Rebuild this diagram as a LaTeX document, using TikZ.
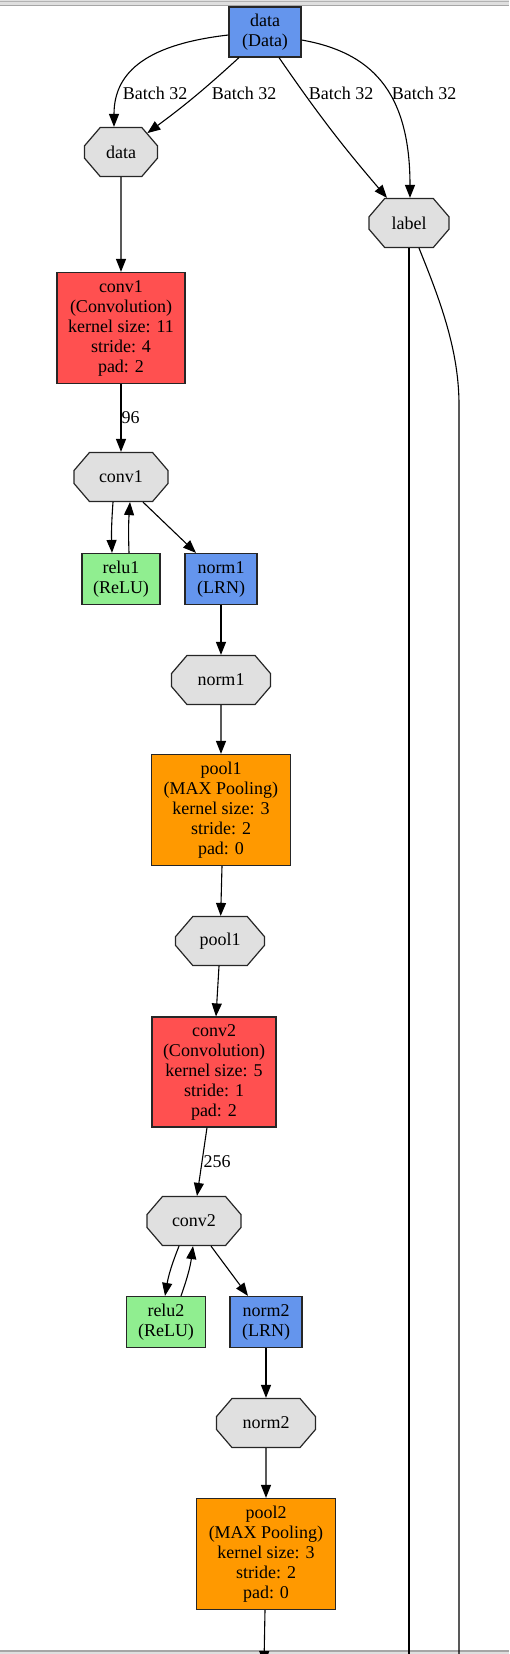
\documentclass[tikz,border=0pt]{standalone}
\usepackage{fontspec}
\setmainfont{Liberation Serif}
\usetikzlibrary{arrows.meta,shapes.misc}

\definecolor{datablue}{HTML}{6495ED}
\definecolor{convred}{HTML}{FF5050}
\definecolor{poolorange}{HTML}{FF9900}
\definecolor{relugreen}{HTML}{90EE90}
\definecolor{blobgray}{HTML}{E0E0E0}

\tikzset{
  layer/.style={rectangle, draw=black!85, line width=1.2pt, align=center,
    inner sep=0pt, font=\fontsize{18}{20}\selectfont},
  blob/.style={chamfered rectangle, chamfered rectangle angle=40.6,
    chamfered rectangle xsep=14pt, chamfered rectangle ysep=12pt,
    draw=black!85, line width=1.2pt, fill=blobgray, minimum height=49pt,
    inner sep=0pt, font=\fontsize{18}{20}\selectfont},
  edge/.style={-{Triangle[length=13pt,width=10pt]}, line width=1.1pt},
  edgelabel/.style={inner sep=0pt, font=\fontsize{18}{20}\selectfont},
}

\begin{document}
\begin{tikzpicture}[x=1pt,y=1pt]
  \useasboundingbox (0,0) rectangle (509,-1654);
  \clip (0,0) rectangle (509,-1654);

  % window frame
  \fill[gray!25] (0,0) rectangle (509,-6.5);
  \draw[gray!60, line width=1pt] (0,-1.5) -- (509,-1.5);
  \draw[gray!70, line width=1pt] (0,-6) -- (509,-6);
  \fill[gray!25] (0,-1651) rectangle (509,-1654);
  \draw[gray!70, line width=1.2pt] (0,-1651) -- (509,-1651);

  % layers and blobs
  \node[layer, fill=datablue, minimum width=72pt, minimum height=50pt] (datalayer) at (265,-32) {data\\(Data)};
  \node[blob, minimum width=73pt] (datablob) at (121,-152) {data};
  \node[blob, minimum width=80pt] (labelblob) at (409,-223) {label};
  \node[layer, fill=convred, minimum width=128pt, minimum height=111pt] (conv1) at (121,-328) {conv1\\(Convolution)\\kernel size: 11\\stride: 4\\pad: 2};
  \node[blob, minimum width=94pt] (conv1blob) at (121,-477) {conv1};
  \node[layer, fill=relugreen, minimum width=78pt, minimum height=51pt] (relu1) at (121,-579) {relu1\\(ReLU)};
  \node[layer, fill=datablue, minimum width=72pt, minimum height=51pt] (norm1) at (221,-579) {norm1\\(LRN)};
  \node[blob, minimum width=99pt] (norm1blob) at (221,-680) {norm1};
  \node[layer, fill=poolorange, minimum width=139pt, minimum height=111pt] (pool1) at (221,-810) {pool1\\(MAX Pooling)\\kernel size: 3\\stride: 2\\pad: 0};
  \node[blob, minimum width=89pt] (pool1blob) at (220,-941) {pool1};
  \node[layer, fill=convred, minimum width=124pt, minimum height=110pt] (conv2) at (214,-1072) {conv2\\(Convolution)\\kernel size: 5\\stride: 1\\pad: 2};
  \node[blob, minimum width=94pt] (conv2blob) at (194,-1221) {conv2};
  \node[layer, fill=relugreen, minimum width=79pt, minimum height=51pt] (relu2) at (166,-1322) {relu2\\(ReLU)};
  \node[layer, fill=datablue, minimum width=72pt, minimum height=51pt] (norm2) at (266,-1322) {norm2\\(LRN)};
  \node[blob, minimum width=99pt] (norm2blob) at (266,-1423) {norm2};
  \node[layer, fill=poolorange, minimum width=139pt, minimum height=111pt] (pool2) at (266,-1554) {pool2\\(MAX Pooling)\\kernel size: 3\\stride: 2\\pad: 0};

  \coordinate (pool2out) at (264,-1664);
  \coordinate (labelout) at (409,-1664);
  \coordinate (labelbend) at (459,-1664);

  % batch edges
  \draw[edge] ([yshift=-3pt]datalayer.west) .. controls (150,-44) and (114,-70) .. ([xshift=-7pt]datablob.north);
  \draw[edge] ([xshift=-26pt]datalayer.south) to[bend left=3] (datablob);
  \draw[edge] ([xshift=14pt]datalayer.south) to[bend right=3] (labelblob);
  \draw[edge] ([yshift=-8pt]datalayer.east) .. controls (370,-52) and (410,-90) .. ([xshift=1pt]labelblob.north);
  \node[edgelabel] (batchA) at (155,-93) {Batch 32};
  \node[edgelabel] (batchB) at (244,-93) {Batch 32};
  \node[edgelabel] (batchC) at (341,-93) {Batch 32};
  \node[edgelabel] (batchD) at (424,-93) {Batch 32};

  % label goes on below
  \draw[line width=1.1pt] (labelblob.south) -- (labelout);
  \draw[line width=1.1pt] ([xshift=10pt]labelblob.south) .. controls (440,-300) and (459,-350) .. (459,-405) -- (labelbend);

  % first block
  \draw[edge] (datablob) -- (conv1);
  \draw[edge] (conv1) -- node[edgelabel, anchor=west] {96} (conv1blob);
  \draw[edge] ([xshift=-8pt]conv1blob.south) to[bend right=3] ([xshift=-9pt]relu1.north);
  \draw[edge] ([xshift=8pt]relu1.north) to[bend left=3] ([xshift=9pt]conv1blob.south);
  \draw[edge] ([xshift=22pt]conv1blob.south) -- ([xshift=-25pt]norm1.north);
  \draw[edge] (norm1) -- (norm1blob);
  \draw[edge] (norm1blob) -- (pool1);
  \draw[edge] ([xshift=1pt]pool1.south) -- (pool1blob);

  % second block
  \draw[edge] ([xshift=-1pt]pool1blob.south) -- ([xshift=2pt]conv2.north);
  \draw[edge] ([xshift=-7pt]conv2.south) -- node[edgelabel, anchor=west, xshift=1pt] {256} ([xshift=3pt]conv2blob.north);
  \draw[edge] ([xshift=-15pt]conv2blob.south) to[bend right=6] ([xshift=-1pt]relu2.north);
  \draw[edge] ([xshift=15pt]relu2.north) to[bend right=6] ([xshift=-1pt]conv2blob.south);
  \draw[edge] ([xshift=17pt]conv2blob.south) -- ([xshift=-18pt]norm2.north);
  \draw[edge] (norm2) -- (norm2blob);
  \draw[edge] (norm2blob) -- (pool2);
  \draw[edge] ([xshift=-1pt]pool2.south) -- (pool2out);
\end{tikzpicture}
\end{document}
